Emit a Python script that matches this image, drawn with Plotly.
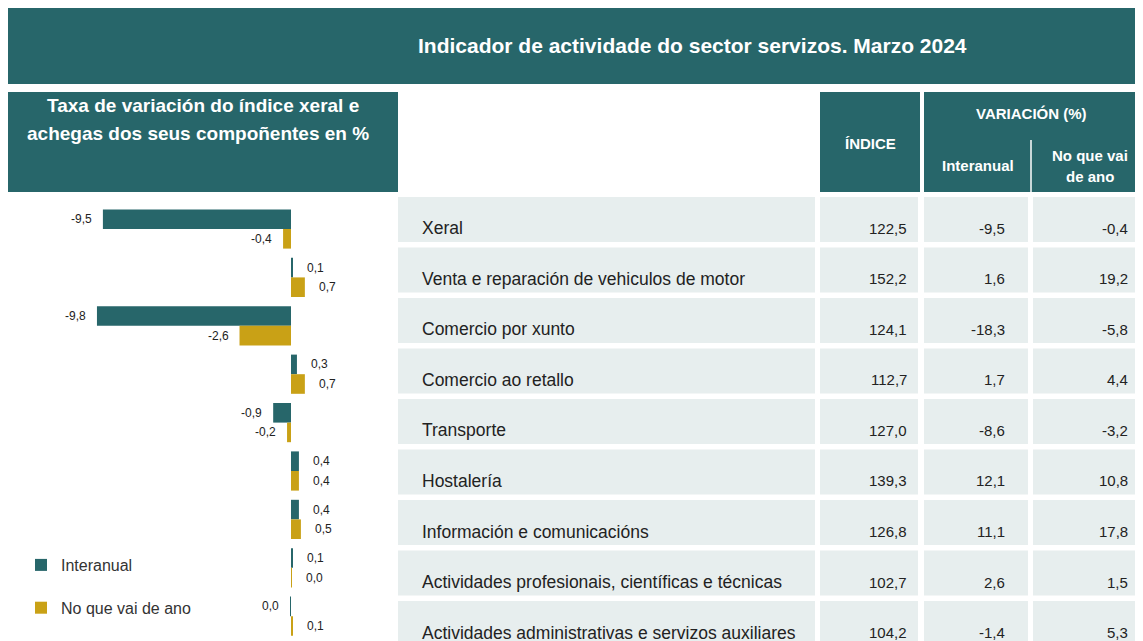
import plotly.graph_objects as go

W, H = 1143, 641
OFF = 8  # page offset of the figure (body margin)

# ---------------- data ----------------
sectors = [
    "Xeral",
    "Venta e reparación de vehiculos de motor",
    "Comercio por xunto",
    "Comercio ao retallo",
    "Transporte",
    "Hostalería",
    "Información e comunicacións",
    "Actividades profesionais, científicas e técnicas",
    "Actividades administrativas e servizos auxiliares",
]
achega_interanual = [-9.5, 0.1, -9.8, 0.3, -0.9, 0.4, 0.4, 0.1, -0.04]
achega_ano = [-0.4, 0.7, -2.6, 0.7, -0.2, 0.4, 0.5, 0.04, 0.1]

indice = [122.5, 152.2, 124.1, 112.7, 127.0, 139.3, 126.8, 102.7, 104.2]
variacion_interanual = [-9.5, 1.6, -18.3, 1.7, -8.6, 12.1, 11.1, 2.6, -1.4]
variacion_ano = [-0.4, 19.2, -5.8, 4.4, -3.2, 10.8, 17.8, 1.5, 5.3]

series_names = ["Interanual", "No que vai de ano"]
title_text = "Indicador de actividade do sector servizos. Marzo 2024"
left_header = ["Taxa de variación do índice xeral e", "achegas dos seus compoñentes en %"]

# ---------------- style ----------------
TEAL = "#27666A"
GOLD = "#C9A116"
CELL = "#E7EEEE"
TXT = "#222222"
FONT = "Liberation Sans, Arial, sans-serif"


def px(x):
    return (x - OFF) / W


def py(y):
    return 1 - (y - OFF) / H


def fmt(v):
    if round(v, 1) == 0:
        v = 0.0
    return f"{v:.1f}".replace(".", ",")


fig = go.Figure()

# ---------------- bar chart ----------------
fig.add_trace(go.Bar(
    y=sectors, x=achega_interanual, orientation="h", name=series_names[0],
    marker=dict(color=TEAL, line=dict(width=0)), legendgroup="a",
    offsetgroup="a", hoverinfo="skip", xaxis="x", yaxis="y"))
fig.add_trace(go.Bar(
    y=sectors, x=achega_ano, orientation="h", name=series_names[1],
    marker=dict(color=GOLD, line=dict(width=0)), legendgroup="b",
    offsetgroup="b", hoverinfo="skip", xaxis="x", yaxis="y"))

annotations = []
for vals, shift in ((achega_interanual, 9.8), (achega_ano, -9.8)):
    for s, v in zip(sectors, vals):
        neg = v < 0
        annotations.append(dict(
            x=v, y=s, xref="x", yref="y", text=fmt(v), showarrow=False,
            xanchor="right" if neg else "left", xshift=-9 if neg else 12,
            yshift=shift, font=dict(family=FONT, size=12, color=TXT)))

# ---------------- table (cells as bars on a second axis) ----------------
columns = [(398, 815), (820, 918), (924, 1028), (1033, 1151)]
for (a, b) in columns:
    fig.add_trace(go.Bar(
        y=sectors, x=[b - a] * len(sectors), base=[a] * len(sectors),
        orientation="h", width=0.89, offsetgroup="cells",
        marker=dict(color=CELL, line=dict(width=0)),
        showlegend=False, hoverinfo="skip", xaxis="x2", yaxis="y2"))

for s in sectors:
    annotations.append(dict(x=420, y=s, xref="x2", yref="y2", text=s,
                            showarrow=False, xanchor="left", yshift=-9,
                            font=dict(family=FONT, size=17.5, color=TXT)))
for col_vals, xr in ((indice, 909), (variacion_interanual, 1007), (variacion_ano, 1130)):
    for s, v in zip(sectors, col_vals):
        annotations.append(dict(x=xr, y=s, xref="x2", yref="y2", text=fmt(v),
                                showarrow=False, xanchor="right", yshift=-9,
                                font=dict(family=FONT, size=15, color=TXT)))

# ---------------- header decorations ----------------
shapes = [
    dict(type="rect", xref="paper", yref="paper", x0=px(8), x1=px(1151), y0=py(84), y1=py(8),
         fillcolor=TEAL, line=dict(width=0), layer="below"),
    dict(type="rect", xref="paper", yref="paper", x0=px(8), x1=px(398), y0=py(192), y1=py(92),
         fillcolor=TEAL, line=dict(width=0), layer="below"),
    dict(type="rect", xref="paper", yref="paper", x0=px(820), x1=px(920), y0=py(192), y1=py(92),
         fillcolor=TEAL, line=dict(width=0), layer="below"),
    dict(type="rect", xref="paper", yref="paper", x0=px(924), x1=px(1151), y0=py(192), y1=py(92),
         fillcolor=TEAL, line=dict(width=0), layer="below"),
    dict(type="line", xref="paper", yref="paper", x0=px(1031), x1=px(1031), y0=py(192), y1=py(140),
         line=dict(color="white", width=1.5)),
]

hdr_font = dict(family=FONT, size=15, color="white")


def hdr(x, y, text, font=hdr_font):
    return dict(x=px(x), y=py(y), xref="paper", yref="paper", text=f"<b>{text}</b>",
                showarrow=False, xanchor="center", yanchor="middle", font=font)


annotations += [
    hdr(692, 45, title_text, dict(family=FONT, size=21, color="white")),
    hdr(203, 106, left_header[0], dict(family=FONT, size=19, color="white")),
    hdr(198, 133, left_header[1], dict(family=FONT, size=19, color="white")),
    hdr(870, 143, "ÍNDICE"),
    hdr(1031, 113, "VARIACIÓN (%)"),
    hdr(978, 165, "Interanual"),
    hdr(1090, 155, "No que vai"),
    hdr(1090, 177, "de ano"),
]

fig.update_layout(
    width=W, height=H, margin=dict(l=0, r=0, t=0, b=0),
    paper_bgcolor="white", plot_bgcolor="white",
    barmode="group", bargap=0.19, bargroupgap=0,
    showlegend=True,
    legend=dict(x=px(21), y=py(548), xanchor="left", yanchor="top",
                bgcolor="rgba(0,0,0,0)", tracegroupgap=19,
                font=dict(family=FONT, size=16, color="#333333")),
    xaxis=dict(domain=[0, px(395)], range=[-(291 - OFF) / 19.8, (395 - 291) / 19.8],
               visible=False, fixedrange=True),
    yaxis=dict(domain=[0, py(205)], type="category", categoryorder="array",
               categoryarray=sectors, range=[(H + OFF - 229) / 48.4, (205 - 229) / 48.4],
               visible=False, fixedrange=True),
    xaxis2=dict(domain=[px(398), 1], range=[398, W + OFF], visible=False, anchor="y2",
                fixedrange=True),
    yaxis2=dict(domain=[0, py(196)], type="category", categoryorder="array",
                categoryarray=sectors,
                range=[(H + OFF - 219.5) / 50.5, (196 - 219.5) / 50.5],
                visible=False, anchor="x2", fixedrange=True),
    shapes=shapes, annotations=annotations,
)

fig.write_html("out.html", post_script="document.body.style.overflow='hidden';")
